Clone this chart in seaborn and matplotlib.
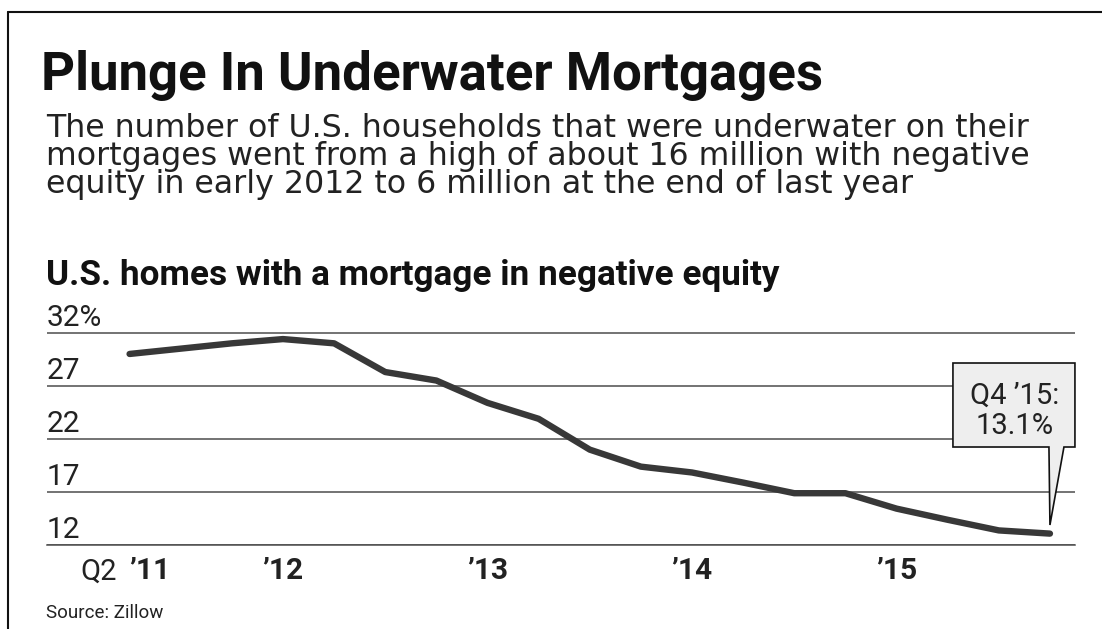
import matplotlib
matplotlib.use("Agg")
import matplotlib.pyplot as plt
import seaborn as sns
import numpy as np
import pandas as pd
from matplotlib import transforms
from matplotlib.patches import Polygon
from matplotlib.lines import Line2D

# ---------------- data ----------------
quarters = ["Q2 '11", "Q3 '11", "Q4 '11",
            "Q1 '12", "Q2 '12", "Q3 '12", "Q4 '12",
            "Q1 '13", "Q2 '13", "Q3 '13", "Q4 '13",
            "Q1 '14", "Q2 '14", "Q3 '14", "Q4 '14",
            "Q1 '15", "Q2 '15", "Q3 '15", "Q4 '15"]
values = [30.0, 30.5, 31.0, 31.4, 31.0, 28.3, 27.5, 25.4, 23.9, 21.0,
          19.4, 18.85, 17.9, 16.9, 16.9, 15.45, 14.4, 13.4, 13.1]
year_tick_quarters = ["Q2 '11", "Q1 '12", "Q1 '13", "Q1 '14", "Q1 '15"]
year_tick_labels = ["\u201911", "\u201912", "\u201913", "\u201914", "\u201915"]
ytick_values = [12, 17, 22, 27, 32]
ytick_labels = ["12", "17", "22", "27", "32%"]

title = "Plunge In Underwater Mortgages"
subtitle_lines = ["The number of U.S. households that were underwater on their",
                  "mortgages went from a high of about 16 million with negative",
                  "equity in early 2012 to 6 million at the end of last year"]
chart_heading = "U.S. homes with a mortgage in negative equity"
callout_lines = ["Q4 \u201915:", "13.1%"]
source = "Source: Zillow"

# ---------------- style ----------------
sns.set_style("white")
plt.rcParams["font.family"] = ["Roboto", "DejaVu Sans"]
WIDE = ["DejaVu Sans"]

W, H = 1102, 629
fig = plt.figure(figsize=(W / 100, H / 100), dpi=100)
fig.patch.set_facecolor("white")

px_per_unit = 10.63
ax = fig.add_axes([47 / W, 1 - 545.3 / H, (1075 - 47) / W, 21 * px_per_unit / H])

xpos = np.arange(len(quarters))
df = pd.DataFrame({"q": xpos, "v": values})
sns.lineplot(data=df, x="q", y="v", ax=ax, color="#383838", linewidth=4.6,
             solid_capstyle="round", solid_joinstyle="round", zorder=4)

ax.set_xlim(-1.615, 18.49)
ax.set_ylim(12, 33)
ax.set_xlabel("")
ax.set_ylabel("")

for s in ["top", "right", "left"]:
    ax.spines[s].set_visible(False)
ax.spines["bottom"].set_color("#4d4d4d")
ax.spines["bottom"].set_linewidth(1.1)

ax.set_yticks(ytick_values)
ax.yaxis.grid(True, color="#4d4d4d", linewidth=1.1)
ax.xaxis.grid(False)
ax.tick_params(axis="y", length=0, labelleft=False)
ax.set_axisbelow(True)

# y labels sitting on top of the grid lines
ytrans = transforms.offset_copy(ax.get_yaxis_transform(), fig=fig, x=0, y=7, units="dots")
for v, lab in zip(ytick_values, ytick_labels):
    ax.text(0, v, lab, transform=ytrans, ha="left", va="baseline",
            fontsize=21.5, color="#222222")

# x ticks
major_pos = [quarters.index(q) for q in year_tick_quarters]
ax.set_xticks(xpos, minor=True)
ax.set_xticks(major_pos, labels=year_tick_labels)
ax.tick_params(axis="x", which="both", direction="in", length=4, width=1.1,
               color="#4d4d4d")
ax.tick_params(axis="x", which="major", labelsize=21.5, pad=8.5, labelcolor="#222222")
for lab in ax.get_xticklabels():
    lab.set_fontweight("bold")
ax.get_xticklabels()[0].set_horizontalalignment("left")
ax.text(major_pos[0], 0, "Q2", transform=transforms.offset_copy(
    ax.get_xaxis_transform(), fig=fig, x=-12.5, y=-34, units="dots"),
    ha="right", va="baseline", fontsize=21, color="#222222")

# callout bubble anchored to last data point
lx, ly = xpos[-1], values[-1]
px, py = ax.transData.transform((lx, ly))
tipy = py + 8.6
rel = [(-97, 78), (-1, 78), (0, 0), (14, 78), (25, 78), (25, 162), (-97, 162)]
bubble = Polygon([(px + dx, tipy + dy) for dx, dy in rel], closed=True,
                 transform=transforms.IdentityTransform(), facecolor="#eeeeee",
                 edgecolor="#111111", linewidth=1.2, zorder=6, clip_on=False)
ax.add_patch(bubble)
for line, dy in zip(callout_lines, [130.3, 99.6]):
    ax.annotate(line, xy=(lx, ly), xycoords="data", xytext=(-35, dy),
                textcoords="offset pixels", ha="center", va="baseline",
                fontsize=21, color="#222222", zorder=7)

# ---------------- figure texts ----------------
def fx(x):
    return x / W

def fy(y):
    return 1 - y / H

fig.text(fx(41), fy(90), title, fontweight="bold",
         fontsize=38, color="#111111", va="baseline", ha="left")
for line, yb in zip(subtitle_lines, [136.7, 165.0, 193.4]):
    fig.text(fx(46), fy(yb), line, family=WIDE, fontsize=22.8, color="#222222",
             va="baseline", ha="left")
fig.text(fx(46), fy(285), chart_heading, fontsize=25.3,
         fontweight="bold", color="#111111", va="baseline", ha="left")
fig.text(fx(46), fy(618), source, fontsize=13.5,
         color="#222222", va="baseline", ha="left")

# frame lines (top and left)
fig.add_artist(Line2D([8 / W, 1], [fy(12), fy(12)], transform=fig.transFigure,
                      color="#111111", linewidth=1.5))
fig.add_artist(Line2D([8 / W, 8 / W], [0, fy(12)], transform=fig.transFigure,
                      color="#111111", linewidth=1.5))

fig.savefig("out.png", dpi=100, facecolor="white")
